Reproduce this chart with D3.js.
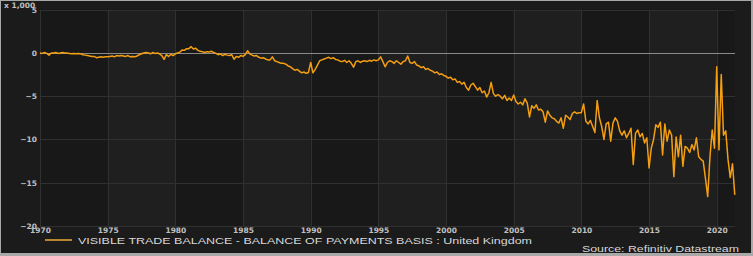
<!DOCTYPE html>
<html><head><meta charset="utf-8">
<script src="https://cdn.jsdelivr.net/npm/d3@7"></script>
<style>
html,body{margin:0;padding:0;background:#a8a8a8;}
svg{display:block;}
</style></head>
<body>
<svg id="chart" width="753" height="256"></svg>
<script>
// ---- data (billions GBP, 2-monthly points starting Jan 1970) ----
const startYear = 1970;
const pointsPerYear = 6;
const values = [
  0.0,-0.05,0.05,-0.05,-0.25,0.0,        // 1970
  0.0,0.05,-0.05,0.0,0.05,0.0,           // 1971
  0.0,-0.05,-0.1,-0.05,-0.1,-0.05,       // 1972
  -0.1,-0.2,-0.25,-0.3,-0.35,-0.4,       // 1973
  -0.4,-0.55,-0.5,-0.45,-0.5,-0.45,      // 1974
  -0.45,-0.4,-0.35,-0.45,-0.3,-0.35,     // 1975
  -0.3,-0.35,-0.4,-0.3,-0.45,-0.4,       // 1976
  -0.45,-0.35,-0.2,-0.1,0.0,0.05,        // 1977
  0.0,-0.1,0.05,-0.05,0.0,-0.1,          // 1978
  -0.3,-0.75,-0.2,-0.4,-0.15,-0.3,       // 1979
  -0.1,0.0,0.1,0.35,0.3,0.5,             // 1980
  0.5,0.73,0.45,0.55,0.3,0.2,            // 1981
  0.15,0.05,0.15,0.1,0.2,0.05,           // 1982
  -0.05,-0.2,-0.1,-0.3,-0.15,-0.25,      // 1983
  -0.3,-0.2,-0.73,-0.4,-0.5,-0.3,        // 1984
  -0.4,-0.2,0.25,-0.1,-0.25,-0.35,       // 1985
  -0.3,-0.5,-0.6,-0.55,-0.7,-0.8,        // 1986
  -0.8,-0.45,-0.9,-1.0,-1.1,-1.2,        // 1987
  -1.2,-1.3,-1.5,-1.6,-1.8,-2.0,         // 1988
  -1.9,-2.1,-2.3,-2.2,-2.35,-2.25,       // 1989
  -1.1,-2.3,-1.9,-1.4,-0.9,-0.8,         // 1990
  -0.7,-0.6,-0.5,-0.65,-0.55,-0.75,      // 1991
  -0.8,-0.95,-1.0,-0.85,-1.1,-0.9,       // 1992
  -1.2,-1.65,-1.0,-0.9,-1.1,-0.95,       // 1993
  -0.9,-1.0,-0.85,-0.95,-0.8,-0.9,       // 1994
  -0.8,-0.45,-1.0,-1.6,-1.1,-0.9,        // 1995
  -1.0,-1.2,-0.9,-1.1,-1.3,-1.0,         // 1996
  -0.9,-0.35,-1.1,-1.2,-1.0,-1.4,        // 1997
  -1.5,-1.7,-1.6,-1.9,-1.8,-2.0,         // 1998
  -2.1,-2.3,-2.2,-2.5,-2.4,-2.6,         // 1999
  -2.7,-2.9,-2.8,-3.1,-3.0,-3.4,         // 2000
  -3.3,-3.6,-3.4,-4.0,-4.3,-3.7,         // 2001
  -3.5,-3.9,-4.3,-4.0,-4.6,-4.4,         // 2002
  -5.1,-4.6,-3.4,-4.7,-5.0,-4.8,         // 2003
  -5.0,-5.3,-4.9,-5.5,-5.2,-5.5,         // 2004
  -4.85,-5.6,-5.9,-5.7,-6.0,-5.3,        // 2005
  -5.8,-7.4,-6.1,-6.4,-6.0,-6.6,         // 2006
  -6.5,-6.8,-8.0,-6.7,-7.2,-7.5,         // 2007
  -7.6,-7.9,-8.1,-7.5,-8.7,-7.2,         // 2008
  -7.4,-7.7,-7.0,-6.8,-7.0,-6.9,         // 2009
  -6.9,-5.9,-7.9,-8.2,-7.8,-8.5,         // 2010
  -9.2,-5.5,-7.5,-8.5,-10.0,-8.2,        // 2011
  -8.0,-10.2,-8.1,-7.5,-7.9,-9.0,        // 2012
  -9.5,-9.0,-9.8,-9.3,-8.7,-12.9,        // 2013
  -9.3,-8.9,-9.7,-9.3,-10.4,-9.8,        // 2014
  -13.3,-11.0,-10.0,-8.3,-8.6,-8.0,      // 2015
  -11.8,-8.2,-10.2,-8.9,-9.5,-14.3,      // 2016
  -9.7,-12.0,-9.5,-13.1,-10.8,-11.0,     // 2017
  -11.5,-10.6,-11.2,-9.8,-12.0,-12.3,    // 2018
  -12.5,-14.5,-16.6,-12.0,-8.9,-11.0,    // 2019
  -1.6,-11.2,-2.5,-9.5,-9.0,-12.3,       // 2020
  -14.4,-12.8,-16.4                       // 2021
];
const xTicks = [1970,1975,1980,1985,1990,1995,2000,2005,2010,2015,2020];
const yTicks = [5,0,-5,-10,-15,-20];
const legendLabel = "VISIBLE TRADE BALANCE - BALANCE OF PAYMENTS BASIS : United Kingdom";
const sourceLabel = "Source: Refinitiv Datastream";
const unitLabel = "x 1,000";

const data = values.map((v,i)=>({t: startYear + i/pointsPerYear, v}));

const svg = d3.select("#chart");
const plot = {l:40, r:735, t:9.7, b:226};

svg.append("rect").attr("x",1).attr("y",1).attr("width",750).attr("height",252).attr("fill","#1b1b1b");

const x = d3.scaleLinear().domain([1970, 2021.35]).range([plot.l, plot.r]);
const y = d3.scaleLinear().domain([-20, 5]).range([plot.b, plot.t]);

// plot background + alternating bands
svg.append("rect").attr("x",plot.l).attr("y",plot.t).attr("width",plot.r-plot.l).attr("height",plot.b-plot.t).attr("fill","#181818");
const bands = xTicks.filter((d,i)=>i%2===1);
svg.selectAll("rect.band").data(bands).enter().append("rect").attr("class","band")
  .attr("x",d=>x(d)).attr("y",plot.t)
  .attr("width",d=>Math.min(x(d+5),plot.r)-x(d)).attr("height",plot.b-plot.t)
  .attr("fill","#1f1f1f");

// grid
svg.selectAll("line.vg").data(xTicks).enter().append("line").attr("class","vg")
  .attr("x1",d=>Math.round(x(d))+0.5).attr("x2",d=>Math.round(x(d))+0.5)
  .attr("y1",plot.t).attr("y2",plot.b).attr("stroke","#303030").attr("stroke-width",1);
svg.selectAll("line.hg").data(yTicks.filter(d=>d!==0)).enter().append("line").attr("class","hg")
  .attr("x1",plot.l).attr("x2",plot.r)
  .attr("y1",d=>Math.round(y(d))+0.5).attr("y2",d=>Math.round(y(d))+0.5)
  .attr("stroke","#303030").attr("stroke-width",1);
svg.append("line").attr("x1",plot.l).attr("x2",plot.r)
  .attr("y1",Math.round(y(0))+0.5).attr("y2",Math.round(y(0))+0.5)
  .attr("stroke","#8a8a8a").attr("stroke-width",1);

// axes labels
const tickFont = "bold 7.5px 'DejaVu Sans', Verdana, sans-serif";
const xAxis = d3.axisBottom(x).tickValues(xTicks).tickFormat(d3.format("d")).tickSize(0).tickPadding(2);
const gx = svg.append("g").attr("transform",`translate(0,${plot.b})`).call(xAxis);
gx.select(".domain").remove();
gx.selectAll("text").style("font",tickFont).attr("fill","#c0c0c0");

const yAxis = d3.axisLeft(y).tickValues(yTicks).tickFormat(d3.format("d")).tickSize(0).tickPadding(3);
const gy = svg.append("g").attr("transform",`translate(${plot.l},0)`).call(yAxis);
gy.select(".domain").remove();
gy.selectAll("text").style("font",tickFont).attr("fill","#c0c0c0");

svg.append("text").attr("x",4).attr("y",8).text(unitLabel)
  .style("font",tickFont).attr("fill","#c0c0c0");

// line
const line = d3.line().x(d=>x(d.t)).y(d=>y(d.v)).curve(d3.curveLinear);
svg.append("path").datum(data).attr("d",line).attr("fill","none")
  .attr("stroke","#f49e12").attr("stroke-width",1.5).attr("stroke-linejoin","round");

// legend
svg.append("line").attr("x1",45).attr("x2",72).attr("y1",240).attr("y2",240)
  .attr("stroke","#b7862f").attr("stroke-width",2);
svg.append("text").attr("x",78).attr("y",243.5).text(legendLabel)
  .attr("textLength",454).attr("lengthAdjust","spacingAndGlyphs")
  .style("font","9px 'Liberation Sans', Arial, sans-serif").attr("fill","#d8d8d8");
svg.append("text").attr("x",739).attr("y",252).attr("text-anchor","end").text(sourceLabel)
  .attr("textLength",157).attr("lengthAdjust","spacingAndGlyphs")
  .style("font","9.5px 'Liberation Sans', Arial, sans-serif").attr("fill","#d8d8d8");
</script>
</body></html>
